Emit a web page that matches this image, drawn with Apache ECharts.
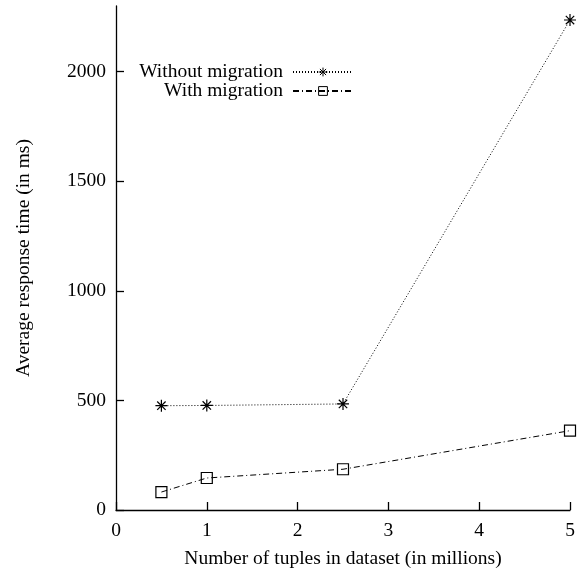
<!DOCTYPE html>
<html>
<head>
<meta charset="utf-8">
<script src="https://cdn.jsdelivr.net/npm/echarts@6/dist/echarts.min.js"></script>
<style>
  html, body { margin: 0; padding: 0; background: #fff; }
  #chart { width: 580px; height: 571px; }
</style>
</head>
<body>
<div id="chart"></div>
<script>
// Dataset sizes (millions of tuples) and average response times (ms)
const tupleCounts = [0.5, 1, 2.5, 5];
const withoutMigration = [476, 477, 484, 2236];
const withMigration = [82, 146, 186, 362];

const xTicks = [0, 1, 2, 3, 4, 5];
const yTicks = [0, 500, 1000, 1500, 2000];

const FONT = 'Liberation Serif';
const FONT_SIZE = 19.5;
const starPath = 'path://M0,-10L0,10M-10,0L10,0M-7,-7L7,7M-7,7L7,-7';
const boxPath = 'path://M-10,-10L10,-10L10,10L-10,10Z';

const toPairs = (xs, ys) => xs.map((x, i) => [x, ys[i]]);

const chart = echarts.init(document.getElementById('chart'), null, { renderer: 'canvas' });

const legendBase = {
  orient: 'vertical',
  align: 'right',
  right: 226,
  itemWidth: 60,
  itemHeight: 11,
  itemGap: 0,
  padding: 0,
  textStyle: { fontFamily: FONT, fontSize: FONT_SIZE, color: '#000', padding: [0, 5, 0, 0] },
  itemStyle: { borderWidth: 1 },
  selectedMode: false
};

const axisText = { fontFamily: FONT, fontSize: FONT_SIZE, color: '#000' };
const axisLineStyle = { color: '#000', width: 1.3 };

chart.setOption({
  animation: false,
  backgroundColor: '#fff',
  textStyle: { fontFamily: FONT },
  grid: { left: 116, right: 10, top: 6, bottom: 61, containLabel: false, outerBoundsMode: 'none' },
  legend: [
    Object.assign({}, legendBase, { top: 62, data: ['Without migration'] }),
    Object.assign({}, legendBase, { top: 81, data: ['With migration'] })
  ],
  xAxis: {
    type: 'value',
    min: 0,
    max: 5,
    interval: 1,
    name: 'Number of tuples in dataset (in millions)',
    nameLocation: 'middle',
    nameGap: 39,
    nameTextStyle: axisText,
    axisLine: { show: true, lineStyle: axisLineStyle },
    axisTick: { show: true, inside: true, length: 8, lineStyle: axisLineStyle, customValues: xTicks },
    axisLabel: Object.assign({ margin: 11, customValues: xTicks, formatter: v => String(v) }, axisText),
    splitLine: { show: false }
  },
  yAxis: {
    type: 'value',
    min: 0,
    max: 2300,
    interval: 500,
    name: 'Average response time (in ms)',
    nameLocation: 'middle',
    nameGap: 82,
    nameTextStyle: axisText,
    axisLine: { show: true, lineStyle: axisLineStyle },
    axisTick: { show: true, inside: true, length: 8, lineStyle: axisLineStyle, customValues: yTicks },
    axisLabel: Object.assign({ margin: 10, customValues: yTicks, formatter: v => String(v) }, axisText),
    splitLine: { show: false }
  },
  series: [
    {
      name: 'Without migration',
      type: 'line',
      data: toPairs(tupleCounts, withoutMigration),
      symbol: starPath,
      symbolSize: 12,
      lineStyle: { color: '#000', width: 1, type: [1, 2] },
      itemStyle: { color: 'transparent', borderColor: '#000', borderWidth: 1.2 }
    },
    {
      name: 'With migration',
      type: 'line',
      data: toPairs(tupleCounts, withMigration),
      symbol: boxPath,
      symbolSize: 11,
      lineStyle: { color: '#000', width: 1, type: [6, 3, 1, 3] },
      itemStyle: { color: 'transparent', borderColor: '#000', borderWidth: 1.2 }
    }
  ]
});
</script>
</body>
</html>
